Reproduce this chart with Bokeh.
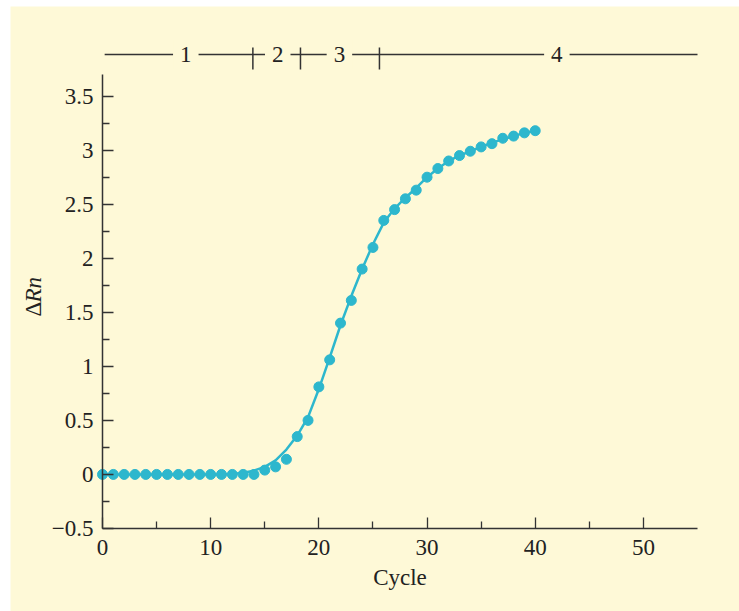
import math
from bokeh.plotting import figure
from bokeh.models import FixedTicker, Label, Range1d
from bokeh.embed import file_html
from bokeh.resources import INLINE

# ---- data ----
cycles = list(range(0, 41))
delta_rn = [0.0, 0.0, 0.0, 0.0, 0.0, 0.0, 0.0, 0.0, 0.0, 0.0,
            0.0, 0.0, 0.0, 0.0, 0.0, 0.04, 0.07, 0.14, 0.35, 0.50,
            0.81, 1.06, 1.40, 1.61, 1.90, 2.10, 2.35, 2.45, 2.55, 2.63,
            2.75, 2.83, 2.90, 2.95, 2.99, 3.03, 3.06, 3.11, 3.13, 3.16,
            3.18]
fit_curve = [0.0, 0.0, 0.0, 0.0, 0.0, 0.0, 0.0, 0.0, 0.0, 0.0,
             0.0, 0.0, 0.005, 0.015, 0.035, 0.07, 0.13, 0.23, 0.36, 0.53,
             0.79, 1.08, 1.38, 1.65, 1.90, 2.13, 2.33, 2.46, 2.56, 2.65,
             2.75, 2.83, 2.90, 2.95, 2.99, 3.03, 3.07, 3.10, 3.13, 3.16,
             3.18]

x_ticks = [0, 10, 20, 30, 40, 50]
x_minor = [5, 15, 25, 35, 45]
x_bounds = (0, 55)
y_ticks = [-0.5, 0, 0.5, 1, 1.5, 2, 2.5, 3, 3.5]
y_tick_labels = ["\u22120.5", "0", "0.5", "1", "1.5", "2", "2.5", "3", "3.5"]
y_minor = [-0.25, 0.25, 0.75, 1.25, 1.75, 2.25, 2.75, 3.25]
y_bounds = (-0.5, 3.7)

phase_names = ["1", "2", "3", "4"]
phase_name_x = [7.7, 16.2, 21.9, 42.0]
phase_bounds = [13.9, 18.3, 25.6]
phase_span = [0.2, 55]

# ---- style ----
BG = "#fef9d7"
TEAL = "#2db7cd"
INK = "#333333"
TXT = "#222222"
FONT = "Liberation Serif"
FS = "23px"

p = figure(width=729, height=605,
           x_range=Range1d(-8.504, 58.882), y_range=Range1d(-1.268, 4.329),
           output_backend="svg", toolbar_location=None,
           min_border=0, min_border_left=0, min_border_right=0,
           min_border_top=0, min_border_bottom=0)
p.margin = (6, 0, 0, 10)
p.background_fill_color = BG
p.border_fill_color = BG
p.outline_line_color = None
p.grid.visible = False

xa = p.xaxis[0]
ya = p.yaxis[0]
xa.fixed_location = y_bounds[0]
ya.fixed_location = x_bounds[0]
xa.bounds = x_bounds
ya.bounds = y_bounds

for ax in (xa, ya):
    ax.axis_line_color = INK
    ax.axis_line_width = 1.5
    ax.major_tick_line_color = INK
    ax.minor_tick_line_color = INK
    ax.major_tick_line_width = 1.3
    ax.minor_tick_line_width = 1.3
    ax.major_tick_in = 11
    ax.major_tick_out = 0
    ax.minor_tick_in = 7
    ax.minor_tick_out = 0
    ax.major_label_text_font = FONT
    ax.major_label_text_font_size = FS
    ax.major_label_text_color = TXT

xa.ticker = FixedTicker(ticks=x_ticks, minor_ticks=x_minor)
ya.ticker = FixedTicker(ticks=y_ticks, minor_ticks=y_minor)
ya.major_label_overrides = {float(t): s for t, s in zip(y_ticks, y_tick_labels)}
xa.major_label_standoff = 12
ya.major_label_standoff = 9

xa.axis_label = "Cycle"
xa.axis_label_text_font = FONT
xa.axis_label_text_font_size = FS
xa.axis_label_text_font_style = "normal"
xa.axis_label_text_color = TXT
xa.axis_label_standoff = 6

# y label "ΔRn" (Δ upright, Rn italic), rotated
p.add_layout(Label(x=-6.4, y=1.46, text="\u0394", angle=math.pi / 2,
                   text_align="left", text_baseline="middle",
                   text_font=FONT, text_font_size=FS, text_color=TXT))
p.add_layout(Label(x=-6.4, y=1.59, text="Rn", angle=math.pi / 2,
                   text_align="left", text_baseline="middle",
                   text_font=FONT, text_font_size=FS, text_font_style="italic",
                   text_color=TXT))

# curve and points
p.line(cycles, fit_curve, line_color=TEAL, line_width=2.5)
p.scatter(cycles, delta_rn, size=10, fill_color=TEAL, line_color=TEAL)

# phase bar above the plot
bar_y = 3.885
p.segment(x0=[phase_span[0]], y0=[bar_y], x1=[phase_span[1]], y1=[bar_y],
          line_color=INK, line_width=1.5)
p.segment(x0=phase_bounds, y0=[3.746] * len(phase_bounds),
          x1=phase_bounds, y1=[3.95] * len(phase_bounds),
          line_color=INK, line_width=1.5)
for name, nx in zip(phase_names, phase_name_x):
    p.add_layout(Label(x=nx, y=bar_y, text=name, text_align="center",
                       text_baseline="middle", text_font=FONT,
                       text_font_size=FS, text_color=TXT,
                       background_fill_color=BG, padding=7))

open("out.html", "w").write(file_html(p, INLINE))
